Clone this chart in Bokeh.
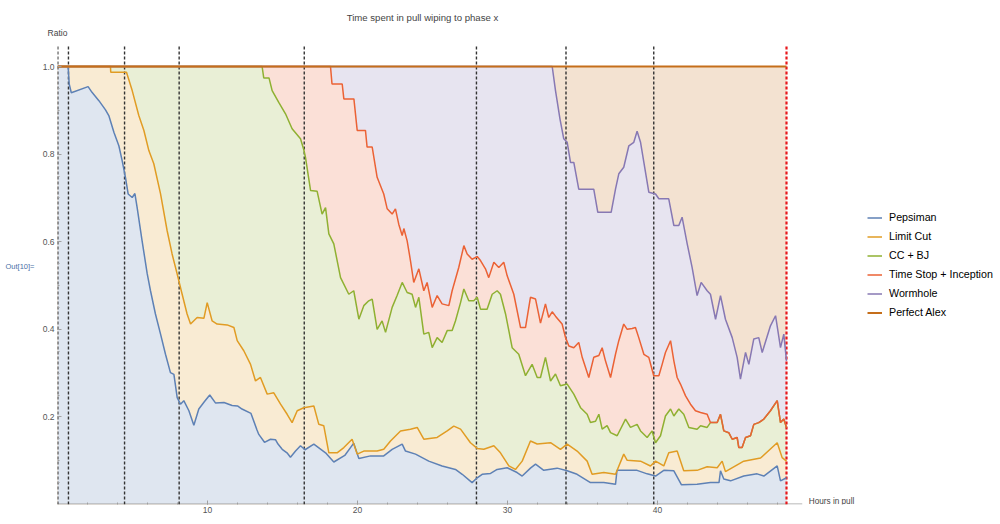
from bokeh.plotting import figure
from bokeh.models import (Range1d, FixedTicker, PrintfTickFormatter, Label,
                          Legend, LegendItem, LinearAxis)
from bokeh.embed import file_html
from bokeh.resources import INLINE

# ---------------- data ----------------
pepsiman_x = [0, 0.71, 0.78, 0.92, 2.04, 2.3, 2.76, 3.2, 3.42, 3.76,
              4.09, 4.31, 4.53, 4.71, 4.98, 5.16, 5.31, 5.64, 5.98, 6.2,
              6.53, 6.87, 7.2, 7.53, 7.76, 7.98, 8.2, 8.42, 8.76, 9.09,
              9.42, 9.8, 10.15, 10.53, 11.1, 11.64, 12.0, 12.3, 12.9, 13.3,
              13.42, 13.8, 14.2, 14.53, 14.7, 14.98, 15.3, 15.53, 15.87, 16.2,
              16.5, 17.09, 17.87, 18.42, 19.15, 19.75, 20.09, 20.87, 21.75, 22.31,
              22.98, 23.2, 23.87, 24.75, 25.64, 26.53, 26.98, 27.64, 27.98, 28.31,
              28.87, 29.31, 29.98, 30.64, 30.98, 31.53, 31.87, 32.42, 33.31, 33.98,
              34.64, 35.53, 36.42, 37.2, 37.3, 38.64, 39.31, 39.87, 40.42, 41.09,
              41.6, 42.64, 43.53, 44.1, 44.2, 44.42, 44.87, 45.75, 46.64, 47.09,
              47.98, 48.2, 48.6]
pepsiman_y = [1.0, 1.0, 0.96, 0.94, 0.954, 0.941, 0.922, 0.901, 0.888, 0.85,
              0.819, 0.785, 0.747, 0.709, 0.701, 0.71, 0.678, 0.602, 0.527, 0.488,
              0.435, 0.389, 0.343, 0.301, 0.297, 0.244, 0.229, 0.237, 0.214, 0.181,
              0.218, 0.235, 0.25, 0.232, 0.233, 0.226, 0.225, 0.218, 0.208, 0.17,
              0.16, 0.142, 0.149, 0.148, 0.138, 0.126, 0.118, 0.108, 0.122, 0.134,
              0.125, 0.138, 0.118, 0.097, 0.112, 0.14, 0.105, 0.111, 0.111, 0.126,
              0.138, 0.122, 0.115, 0.099, 0.088, 0.08, 0.069, 0.05, 0.061, 0.069,
              0.071, 0.08, 0.084, 0.073, 0.065, 0.083, 0.092, 0.078, 0.083, 0.077,
              0.069, 0.05, 0.05, 0.046, 0.078, 0.078, 0.07, 0.065, 0.078, 0.077,
              0.045, 0.046, 0.05, 0.05, 0.077, 0.058, 0.054, 0.065, 0.07, 0.065,
              0.088, 0.054, 0.061]

limitcut_x = [0, 3.53, 3.55, 4.6, 4.98, 5.42, 5.76, 6.09, 6.42, 6.87,
              7.31, 7.64, 7.98, 8.31, 8.64, 8.87, 9.31, 9.76, 9.98, 10.31,
              10.64, 11.31, 11.76, 11.98, 12.42, 12.87, 13.2, 13.53, 13.98, 14.42,
              14.87, 15.31, 15.64, 15.98, 16.42, 17.09, 17.42, 17.75, 18.09, 18.64,
              19.09, 19.64, 19.98, 20.42, 21.31, 21.75, 22.2, 22.87, 23.53, 23.98,
              24.42, 25.31, 25.98, 26.42, 26.87, 27.53, 27.98, 28.42, 29.09, 29.53,
              30.09, 30.53, 30.98, 31.53, 31.98, 32.87, 33.53, 33.98, 34.64, 35.31,
              35.64, 36.42, 37.2, 37.75, 37.98, 38.87, 39.53, 39.87, 40.42, 40.75,
              41.31, 41.75, 42.64, 43.31, 43.98, 44.31, 44.53, 45.75, 46.87, 47.98,
              48.31, 48.6]
limitcut_y = [1.0, 1.0, 0.987, 0.987, 0.945, 0.888, 0.854, 0.808, 0.778, 0.709,
              0.625, 0.572, 0.526, 0.48, 0.435, 0.412, 0.427, 0.425, 0.461, 0.419,
              0.412, 0.41, 0.404, 0.374, 0.351, 0.32, 0.282, 0.29, 0.252, 0.255,
              0.229, 0.206, 0.187, 0.214, 0.221, 0.225, 0.183, 0.18, 0.118, 0.118,
              0.13, 0.149, 0.115, 0.122, 0.122, 0.126, 0.145, 0.168, 0.172, 0.176,
              0.149, 0.153, 0.168, 0.179, 0.172, 0.141, 0.128, 0.126, 0.134, 0.118,
              0.088, 0.08, 0.099, 0.145, 0.138, 0.141, 0.126, 0.138, 0.122, 0.099,
              0.069, 0.073, 0.069, 0.115, 0.101, 0.099, 0.088, 0.099, 0.088, 0.118,
              0.122, 0.077, 0.078, 0.086, 0.084, 0.099, 0.075, 0.099, 0.106, 0.141,
              0.107, 0.099]

ccbj_x = [0, 13.64, 13.75, 14.1, 14.31, 14.75, 15.2, 15.64, 16.2, 16.42,
          16.53, 16.87, 17.31, 17.64, 17.87, 18.09, 18.42, 18.87, 19.42, 19.75,
          20.09, 20.42, 20.75, 20.98, 21.31, 21.64, 21.87, 22.31, 22.64, 22.98,
          23.31, 23.64, 23.87, 24.09, 24.42, 24.75, 24.98, 25.31, 25.64, 25.98,
          26.31, 26.53, 26.87, 27.09, 27.42, 27.75, 27.98, 28.2, 28.64, 28.98,
          29.31, 29.53, 29.87, 30.31, 30.75, 31.2, 31.64, 31.98, 32.2, 32.53,
          32.87, 33.2, 33.53, 33.98, 34.42, 34.87, 35.31, 35.53, 35.87, 36.09,
          36.31, 36.64, 36.87, 37.31, 37.87, 38.2, 38.64, 38.87, 39.31, 39.64,
          39.87, 40.2, 40.53, 40.87, 41.09, 41.42, 41.75, 42.09, 42.64, 42.87,
          43.31, 43.53, 43.98, 44.2, 44.42, 44.75, 44.98, 45.31, 45.42, 45.64,
          45.87, 46.2, 46.42, 46.75, 47.09, 47.53, 47.98, 48.2, 48.42, 48.6]
ccbj_y = [1.0, 1.0, 0.974, 0.974, 0.945, 0.918, 0.892, 0.858, 0.835, 0.81,
          0.793, 0.717, 0.715, 0.663, 0.678, 0.618, 0.595, 0.518, 0.48, 0.488,
          0.423, 0.454, 0.465, 0.469, 0.4, 0.419, 0.393, 0.45, 0.477, 0.507,
          0.484, 0.48, 0.45, 0.473, 0.389, 0.393, 0.358, 0.381, 0.37, 0.397,
          0.397, 0.419, 0.461, 0.492, 0.465, 0.465, 0.473, 0.446, 0.446, 0.48,
          0.488, 0.48, 0.435, 0.358, 0.343, 0.294, 0.32, 0.29, 0.29, 0.336,
          0.282, 0.298, 0.271, 0.275, 0.252, 0.221, 0.206, 0.187, 0.19, 0.206,
          0.172, 0.18, 0.164, 0.157, 0.195, 0.176, 0.183, 0.168, 0.153, 0.168,
          0.141, 0.157, 0.202, 0.218, 0.202, 0.218, 0.206, 0.176, 0.172, 0.18,
          0.176, 0.187, 0.187, 0.206, 0.168, 0.164, 0.149, 0.153, 0.13, 0.13,
          0.153, 0.157, 0.183, 0.187, 0.195, 0.214, 0.237, 0.187, 0.195, 0.176]

timestop_x = [0, 18.2, 18.3, 18.98, 19.09, 19.76, 19.98, 20.53, 20.64, 20.98,
              21.31, 21.75, 21.98, 22.31, 22.53, 22.75, 22.98, 23.09, 23.31, 23.53,
              23.75, 24.09, 24.42, 24.64, 24.98, 25.31, 25.64, 26.09, 26.31, 26.75,
              27.09, 27.31, 27.64, 27.98, 28.2, 28.53, 28.75, 29.09, 29.42, 29.75,
              29.98, 30.42, 30.87, 31.2, 31.53, 31.87, 32.2, 32.53, 32.75, 32.98,
              33.2, 33.64, 33.87, 34.09, 34.42, 34.75, 34.98, 35.42, 35.75, 36.09,
              36.31, 36.53, 36.87, 37.2, 37.42, 37.75, 37.98, 38.31, 38.53, 38.75,
              39.09, 39.42, 39.75, 40.09, 40.31, 40.53, 40.87, 41.09, 41.31, 41.53,
              41.87, 42.2, 42.53, 42.87, 43.31, 43.53, 43.98, 44.2, 44.42, 44.75,
              44.98, 45.31, 45.42, 45.64, 45.87, 46.2, 46.42, 46.75, 47.09, 47.53,
              47.98, 48.2, 48.42, 48.6]
timestop_y = [1.0, 1.0, 0.96, 0.96, 0.926, 0.926, 0.854, 0.854, 0.816, 0.816,
              0.747, 0.709, 0.675, 0.663, 0.675, 0.64, 0.614, 0.63, 0.602, 0.557,
              0.507, 0.538, 0.488, 0.507, 0.45, 0.477, 0.458, 0.454, 0.488, 0.541,
              0.591, 0.572, 0.56, 0.566, 0.557, 0.538, 0.518, 0.553, 0.541, 0.553,
              0.522, 0.48, 0.404, 0.404, 0.473, 0.469, 0.414, 0.458, 0.427, 0.44,
              0.43, 0.412, 0.381, 0.362, 0.358, 0.37, 0.336, 0.29, 0.336, 0.34,
              0.358, 0.328, 0.29, 0.343, 0.374, 0.412, 0.4, 0.402, 0.404, 0.381,
              0.343, 0.336, 0.294, 0.294, 0.32, 0.347, 0.374, 0.328, 0.29, 0.275,
              0.248, 0.229, 0.214, 0.21, 0.206, 0.187, 0.187, 0.206, 0.168, 0.164,
              0.149, 0.153, 0.13, 0.13, 0.153, 0.157, 0.183, 0.187, 0.195, 0.214,
              0.237, 0.187, 0.195, 0.176]

wormhole_x = [0, 32.98, 33.2, 33.5, 33.75, 33.98, 34.2, 34.42, 34.75, 35.75,
              36.02, 36.91, 37.2, 37.42, 37.75, 38.09, 38.42, 38.64, 38.87, 39.42,
              39.87, 40.09, 40.75, 41.09, 41.42, 41.64, 41.98, 42.31, 42.64, 42.91,
              43.31, 43.53, 43.87, 44.2, 44.53, 44.98, 45.31, 45.53, 45.87, 46.09,
              46.42, 46.75, 46.98, 47.53, 47.87, 48.2, 48.42, 48.6]
wormhole_y = [1.0, 1.0, 0.945, 0.88, 0.835, 0.827, 0.781, 0.781, 0.72, 0.72,
              0.667, 0.667, 0.72, 0.755, 0.77, 0.819, 0.827, 0.852, 0.827, 0.713,
              0.709, 0.698, 0.698, 0.637, 0.637, 0.656, 0.595, 0.541, 0.477, 0.507,
              0.488, 0.48, 0.423, 0.477, 0.423, 0.381, 0.336, 0.286, 0.347, 0.32,
              0.378, 0.381, 0.347, 0.408, 0.431, 0.358, 0.389, 0.328]

perfect_x = [0, 48.6]
perfect_y = [1.0, 1.0]

series_names = ["Pepsiman", "Limit Cut", "CC + BJ", "Time Stop + Inception",
                "Wormhole", "Perfect Alex"]
phase_marks = [0.02, 0.73, 4.47, 8.11, 16.45, 27.93, 33.9, 39.75]
end_mark = [48.6]
x_ticks = [10, 20, 30, 40]
y_ticks = [0.2, 0.4, 0.6, 0.8, 1.0]
x_axis_name = "Hours in pull"
y_axis_name = "Ratio"
title_text = "Time spent in pull wiping to phase x"
out_label = "Out[10]="

# ---------------- styling ----------------
colors = ["#5E81B5", "#E19C24", "#8FB032", "#EB6235", "#8778B3", "#C56E1A"]


def tint(hexcol, a=0.2):
    r, g, b = int(hexcol[1:3], 16), int(hexcol[3:5], 16), int(hexcol[5:7], 16)
    f = lambda c: int(round(a * c + (1 - a) * 255))
    return "#%02x%02x%02x" % (f(r), f(g), f(b))


xs = [pepsiman_x, limitcut_x, ccbj_x, timestop_x, wormhole_x, perfect_x]
ys = [pepsiman_y, limitcut_y, ccbj_y, timestop_y, wormhole_y, perfect_y]

W, H = 1000, 524
L, T, B = 57, 40, 20
PX_PER_H = 15.0
PX_PER_UNIT = 438.0
frame_h = H - T - B
fb = H - B
x_end = (W - L) / PX_PER_H
y_end = frame_h / PX_PER_UNIT
title_pos = (422 - L) / PX_PER_H          # horizontal centre of the title
out_pos = (fb - 266) / PX_PER_UNIT        # height of the "Out[10]=" tag

p = figure(width=W, height=H, output_backend="svg", toolbar_location=None,
           x_range=Range1d(0, x_end), y_range=Range1d(0, y_end),
           min_border_left=L, min_border_right=0, min_border_top=T,
           min_border_bottom=B, title=None)
p.outline_line_color = None
p.grid.visible = False
p.background_fill_color = "white"
p.border_fill_color = "white"

# fills (drawn top-down so each band shows its own tint)
for i in range(5, -1, -1):
    p.varea(x=xs[i], y1=[0] * len(xs[i]), y2=ys[i],
            fill_color=tint(colors[i], 0.2), fill_alpha=1.0)

# horizontal axis line (ends before the axis name, as in the reference)
p.segment(x0=[-1], x1=[49.65], y0=[0.5 / PX_PER_UNIT], y1=[0.5 / PX_PER_UNIT],
          line_color="#A0A0A0", line_width=1)

# phase marker lines
p.segment(x0=phase_marks, x1=phase_marks, y0=[0] * len(phase_marks),
          y1=[1.05] * len(phase_marks), line_color="#333333", line_width=1.4,
          line_dash="3 2")
p.segment(x0=end_mark, x1=end_mark, y0=[0], y1=[1.05], line_color="#E8161B",
          line_width=2.2, line_dash="3 2")

renderers = []
for i in range(6):
    lw = 2.0 if i == 5 else 1.5
    r = p.line(xs[i], ys[i], line_color=colors[i], line_width=lw)
    renderers.append(r)


def text_only(axis, size, color, standoff):
    axis.axis_line_color = None
    axis.major_tick_line_color = None
    axis.minor_tick_line_color = None
    axis.major_tick_in = 0
    axis.major_tick_out = 0
    axis.major_label_standoff = standoff
    axis.major_label_text_font = "Liberation Sans"
    axis.major_label_text_font_size = size
    axis.major_label_text_color = color


# main axes
ax = p.xaxis[0]
ax.ticker = FixedTicker(ticks=x_ticks, minor_ticks=list(range(2, 50, 2)))
ax.axis_line_color = None
ax.major_tick_line_color = "#A0A0A0"
ax.minor_tick_line_color = "#A0A0A0"
ax.major_tick_in = 4
ax.major_tick_out = 0
ax.minor_tick_in = 2
ax.minor_tick_out = 0
ax.major_label_standoff = 2
ax.major_label_text_font = "Liberation Sans"
ax.major_label_text_font_size = "8.5px"
ax.major_label_text_color = "#555555"

ay = p.yaxis[0]
ay.ticker = FixedTicker(ticks=y_ticks,
                        minor_ticks=[round(0.05 * k, 2) for k in range(1, 21)])
ay.formatter = PrintfTickFormatter(format="%.1f")
ay.axis_line_color = None
ay.major_tick_line_color = "#A0A0A0"
ay.minor_tick_line_color = "#A0A0A0"
ay.major_tick_in = 4
ay.major_tick_out = 0
ay.minor_tick_in = 2
ay.minor_tick_out = 0
ay.major_label_standoff = 3
ay.major_label_text_font = "Liberation Sans"
ay.major_label_text_font_size = "8.5px"
ay.major_label_text_color = "#555555"

# "Out[10]=" tag, left of the value labels
out_axis = LinearAxis(ticker=FixedTicker(ticks=[out_pos]),
                      major_label_overrides={out_pos: out_label})
text_only(out_axis, "7.5px", "#4A6FA6", 5)
p.add_layout(out_axis, "left")

# "Ratio" (just above the frame, over the vertical axis) and the title
ratio_axis = LinearAxis(ticker=FixedTicker(ticks=[0]),
                        major_label_overrides={0: y_axis_name})
text_only(ratio_axis, "8.5px", "#444444", 3)
p.add_layout(ratio_axis, "above")

title_axis = LinearAxis(ticker=FixedTicker(ticks=[title_pos]),
                        major_label_overrides={title_pos: title_text})
text_only(title_axis, "9.6px", "#444444", 2)
p.add_layout(title_axis, "above")

# horizontal axis name, at the end of the axis line
p.add_layout(Label(x=808.3 - L, y=3.2, x_units="screen", y_units="screen",
                   text=x_axis_name, text_align="left", text_baseline="alphabetic",
                   text_font="Liberation Sans", text_font_size="8.2px",
                   text_color="#444444"))

legend = Legend(items=[LegendItem(label=series_names[i], renderers=[renderers[i]])
                       for i in range(6)],
                location=(867 - L, fb - (209.5 + 110)), orientation="vertical")
legend.glyph_width = 15
legend.glyph_height = 15
legend.label_height = 15
legend.spacing = 4
legend.padding = 0
legend.margin = 0
legend.label_standoff = 7
legend.border_line_color = None
legend.background_fill_alpha = 0
legend.label_text_font = "Liberation Sans"
legend.label_text_font_size = "10.7px"
legend.label_text_color = "#000000"
p.add_layout(legend)

open("out.html", "w").write(file_html(p, INLINE))
